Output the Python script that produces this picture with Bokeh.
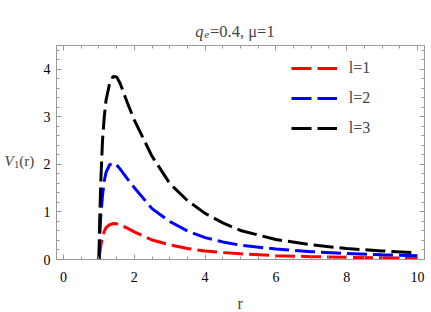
from bokeh.plotting import figure
from bokeh.models import Range1d, SingleIntervalTicker, LinearAxis, Label, Legend, LegendItem
from bokeh.embed import file_html
from bokeh.resources import INLINE

# ---- data ----
r = [1.0, 1.02, 1.05, 1.1, 1.15, 1.2, 1.3, 1.4, 1.5, 1.6, 1.8, 2.0, 2.5, 3.0, 3.5, 4.0, 4.5, 5.0, 6.0, 7.0, 8.0, 9.0, 10.0]
V_l1 = [0, 0.12, 0.28, 0.47, 0.59, 0.67, 0.73, 0.755, 0.75, 0.73, 0.66, 0.58, 0.41, 0.31, 0.23, 0.18, 0.145, 0.12, 0.08, 0.06, 0.045, 0.035, 0.025]
V_l2 = [0, 0.45, 0.9, 1.35, 1.65, 1.83, 1.99, 2.03, 1.99, 1.9, 1.7, 1.51, 1.07, 0.8, 0.6, 0.46, 0.37, 0.3, 0.22, 0.165, 0.125, 0.1, 0.08]
V_l3 = [0, 0.8, 1.6, 2.5, 3.0, 3.35, 3.7, 3.85, 3.84, 3.7, 3.3, 2.93, 2.17, 1.6, 1.24, 0.97, 0.77, 0.61, 0.42, 0.31, 0.23, 0.18, 0.14]
series_labels = ["l=1", "l=2", "l=3"]
series_colors = ["#ff0000", "#0000ff", "#000000"]
x_ticks_interval = 2
y_ticks_interval = 1

SERIF = "Liberation Serif"
FRAME = "#999999"

p = figure(width=431, height=312, x_range=Range1d(-0.2, 10.2), y_range=Range1d(0, 4.5),
           output_backend="svg", toolbar_location=None,
           min_border_left=56, min_border_right=7, min_border_top=33, min_border_bottom=53,
           x_axis_location=None, y_axis_location=None)
p.grid.visible = False
p.outline_line_color = FRAME
p.background_fill_color = "white"
p.border_fill_color = "white"

def style_axis(ax, show_labels):
    ax.axis_line_color = FRAME
    ax.major_tick_line_color = FRAME
    ax.minor_tick_line_color = FRAME
    ax.major_tick_in = 5
    ax.major_tick_out = 0
    ax.minor_tick_in = 3
    ax.minor_tick_out = 0
    if show_labels:
        ax.major_label_text_font = SERIF
        ax.major_label_text_font_size = "14px"
        ax.major_label_text_color = "black"
    else:
        ax.major_label_text_color = None
        ax.major_label_text_font_size = "0px"
        ax.major_label_standoff = 0

xb = LinearAxis(ticker=SingleIntervalTicker(interval=x_ticks_interval, num_minor_ticks=4))
style_axis(xb, True)
xb.major_label_standoff = 12
p.add_layout(xb, "below")
xt = LinearAxis(ticker=SingleIntervalTicker(interval=x_ticks_interval, num_minor_ticks=4))
style_axis(xt, False)
p.add_layout(xt, "above")
yl = LinearAxis(ticker=SingleIntervalTicker(interval=y_ticks_interval, num_minor_ticks=5))
style_axis(yl, True)
yl.major_label_standoff = 6
p.add_layout(yl, "left")
yr = LinearAxis(ticker=SingleIntervalTicker(interval=y_ticks_interval, num_minor_ticks=5))
style_axis(yr, False)
p.add_layout(yr, "right")

items = []
for V, lab_txt, col in zip([V_l1, V_l2, V_l3], series_labels, series_colors):
    rend = p.line(r, V, line_color=col, line_width=3, line_dash="20 6")
    items.append(LegendItem(label=lab_txt, renderers=[rend]))

legend = Legend(items=items, location=(234.7, 120.7), padding=0, margin=0, spacing=10,
                glyph_width=46, glyph_height=20, label_height=20, label_standoff=12,
                label_text_font=SERIF, label_text_font_size="16px",
                border_line_alpha=0, background_fill_alpha=0)
p.add_layout(legend)

def lab(x, y, text, size="15px", style="normal", align="left"):
    return Label(x=x, y=y, text=text, text_font=SERIF, text_font_size=size,
                 text_font_style=style, text_align=align, text_baseline="alphabetic")

# title: q_e=0.4, mu=1  (side panel => not clipped to the frame)
p.add_layout(lab(3.72, 4.79, "q", size="16.5px", style="italic"), "above")
p.add_layout(lab(3.975, 4.73, "e", size="11px", style="italic"), "above")
p.add_layout(lab(4.14, 4.79, "=0.4, \u03bc=1", size="16.5px"), "above")

# y label: V_1(r)
p.add_layout(lab(-1.67, 2.07, "V", style="italic"), "left")
p.add_layout(lab(-1.40, 2.00, "1", size="10.5px"), "left")
p.add_layout(lab(-1.25, 2.07, "(r)"), "left")

# x label
p.add_layout(lab(4.99, -0.92, "r", size="16px", align="center"), "below")

open("out.html", "w").write(file_html(p, INLINE))
